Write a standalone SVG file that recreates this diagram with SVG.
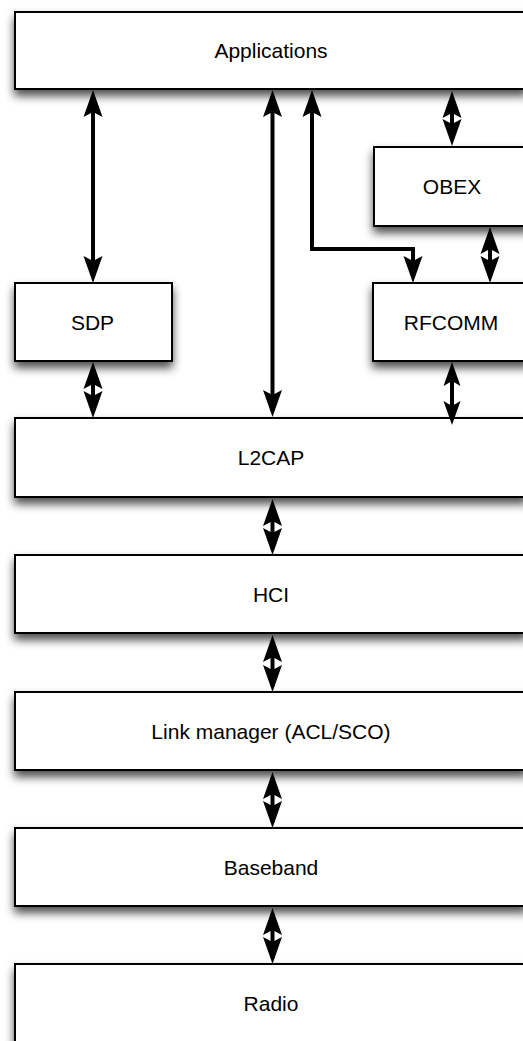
<svg xmlns="http://www.w3.org/2000/svg" width="523" height="1041" viewBox="0 0 523 1041">
  <style>
    .box { fill: #fff; stroke: #000; stroke-width: 2; filter: url(#shadow); }
    .lbl { font-family: "Liberation Sans", Helvetica, Arial, sans-serif; font-size: 21px; fill: #000; text-anchor: middle; }
    .link { fill: none; stroke: #000; stroke-width: 4; stroke-linejoin: miter; marker-start: url(#ah); marker-end: url(#ah); }
    .link.small { marker-start: url(#ahs); marker-end: url(#ahs); }
  </style>
  <defs>
    <filter id="shadow" x="-10%" y="-30%" width="120%" height="180%">
      <feDropShadow dx="0" dy="6" stdDeviation="5" flood-color="#000" flood-opacity="0.7"/>
    </filter>
    <!-- notched filled arrowhead; tip sits 6px beyond the path end -->
    <marker id="ah" viewBox="-30 -12 40 24" refX="0" refY="0" markerWidth="40" markerHeight="24" markerUnits="userSpaceOnUse" orient="auto-start-reverse" overflow="visible">
      <path d="M6,0 L-21,-9.5 L-16,0 L-21,9.5 Z" fill="#000"/>
    </marker>
    <marker id="ahs" viewBox="-30 -12 40 24" refX="0" refY="0" markerWidth="40" markerHeight="24" markerUnits="userSpaceOnUse" orient="auto-start-reverse" overflow="visible">
      <path d="M6,0 L-18,-8.5 L-13,0 L-18,8.5 Z" fill="#000"/>
    </marker>
  </defs>

  <rect width="523" height="1041" fill="#fff"/>

  <g id="applications">
    <rect class="box" x="15" y="12" width="512" height="77"/>
    <text class="lbl" x="271" y="57.5">Applications</text>
  </g>
  <g id="obex">
    <rect class="box" x="374" y="147" width="156" height="79"/>
    <text class="lbl" x="452" y="194">OBEX</text>
  </g>
  <g id="sdp">
    <rect class="box" x="15" y="283" width="157" height="78"/>
    <text class="lbl" x="92.5" y="329.5">SDP</text>
  </g>
  <g id="rfcomm">
    <rect class="box" x="373" y="283" width="156" height="78"/>
    <text class="lbl" x="451" y="329.5">RFCOMM</text>
  </g>
  <g id="l2cap">
    <rect class="box" x="15" y="418" width="512" height="79"/>
    <text class="lbl" x="271" y="465">L2CAP</text>
  </g>
  <g id="hci">
    <rect class="box" x="15" y="555" width="512" height="78"/>
    <text class="lbl" x="271" y="601.5">HCI</text>
  </g>
  <g id="link-manager">
    <rect class="box" x="15" y="692" width="512" height="78"/>
    <text class="lbl" x="271" y="738.5">Link manager (ACL/SCO)</text>
  </g>
  <g id="baseband">
    <rect class="box" x="15" y="828" width="512" height="78"/>
    <text class="lbl" x="271" y="874.5">Baseband</text>
  </g>
  <g id="radio">
    <rect class="box" x="15" y="964" width="512" height="78"/>
    <text class="lbl" x="271" y="1010.5">Radio</text>
  </g>

  <g id="connectors">
    <!-- Applications <-> SDP -->
    <path class="link" d="M93,96 L93,277"/>
    <!-- Applications <-> L2CAP -->
    <path class="link" d="M272.5,96 L272.5,411"/>
    <!-- Applications <-> RFCOMM (elbow) -->
    <path class="link" d="M312,96 L312,249 L413,249 L413,277"/>
    <!-- Applications <-> OBEX -->
    <path class="link" d="M452,97 L452,140"/>
    <!-- OBEX <-> RFCOMM -->
    <path class="link" d="M490,233 L490,277"/>
    <!-- SDP <-> L2CAP -->
    <path class="link" d="M93,368 L93,412"/>
    <!-- RFCOMM <-> L2CAP -->
    <path class="link small" d="M452,368 L452,419"/>
    <!-- stacked layers -->
    <path class="link" d="M272.5,505 L272.5,549"/>
    <path class="link" d="M272.5,641 L272.5,686"/>
    <path class="link" d="M272.5,778 L272.5,822"/>
    <path class="link" d="M272.5,914 L272.5,958"/>
  </g>
</svg>
